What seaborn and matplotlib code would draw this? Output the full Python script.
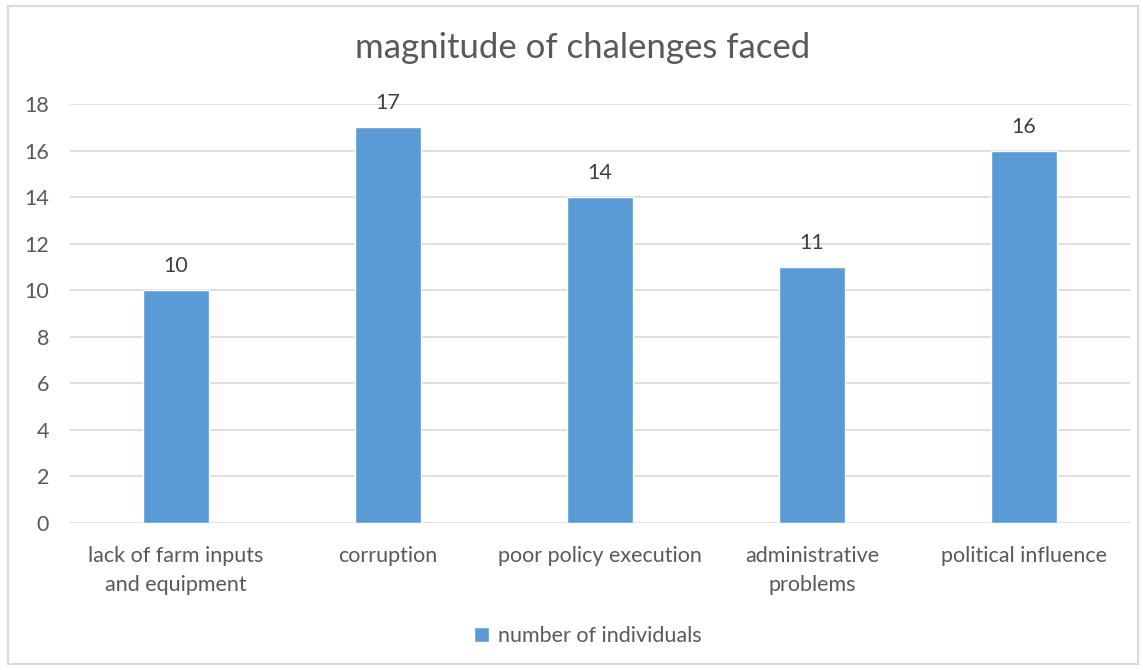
import matplotlib
matplotlib.use("Agg")
import matplotlib.pyplot as plt
import seaborn as sns
import pandas as pd
from matplotlib.patches import Rectangle

categories = ["lack of farm inputs\nand equipment", "corruption", "poor policy execution",
              "administrative\nproblems", "political influence"]
values = [10, 17, 14, 11, 16]
series_name = "number of individuals"
title = "magnitude of chalenges faced"
yticks = [0, 2, 4, 6, 8, 10, 12, 14, 16, 18]

sns.set_theme(style="white")
plt.rcParams['font.family'] = ['Lato', 'DejaVu Sans']

df = pd.DataFrame({"category": categories, "value": values, "series": series_name})

fig = plt.figure(figsize=(11.43, 6.70), dpi=100)
ax = fig.add_axes([70/1143, 1-523/670, 1060/1143, 419/670])

sns.barplot(data=df, x="category", y="value", hue="series", palette=["#5B9BD5"],
            width=0.31, ax=ax, saturation=1, legend=True)

ax.set_ylim(0, 18)
ax.set_yticks(yticks)
ax.set_xlim(-0.5, len(categories) - 0.5)
ax.grid(axis="y", color="#D9D9D9", linewidth=1.2)
ax.set_axisbelow(True)
for s in ax.spines.values():
    s.set_visible(False)
ax.set_xlabel("")
ax.set_ylabel("")
ax.tick_params(axis="both", length=0, labelsize=15.5, colors="#595959")
ax.tick_params(axis="x", pad=16.5)
ax.tick_params(axis="y", pad=15)
for lbl in ax.get_xticklabels():
    lbl.set_linespacing(1.55)

for c in ax.containers:
    ax.bar_label(c, labels=[str(v) for v in values], padding=10, fontsize=15.5, color="#404040")

ax.get_legend().remove()
handles, labels = ax.get_legend_handles_labels()
fig.legend(handles, labels, loc="center", bbox_to_anchor=(588/1143, 1-636/670), frameon=False,
           fontsize=15.5, labelcolor="#595959", handlelength=0.7, handleheight=0.7,
           handletextpad=0.4)

fig.text(583/1143, 1-48/670, title, ha="center", va="center", fontsize=25, color="#595959")

fig.patches.append(Rectangle((8/1143, 1-664/670), 1130/1143, 658/670, transform=fig.transFigure,
                             fill=False, edgecolor="#D9D9D9", linewidth=1.5))

fig.savefig("out.png", dpi=100)
